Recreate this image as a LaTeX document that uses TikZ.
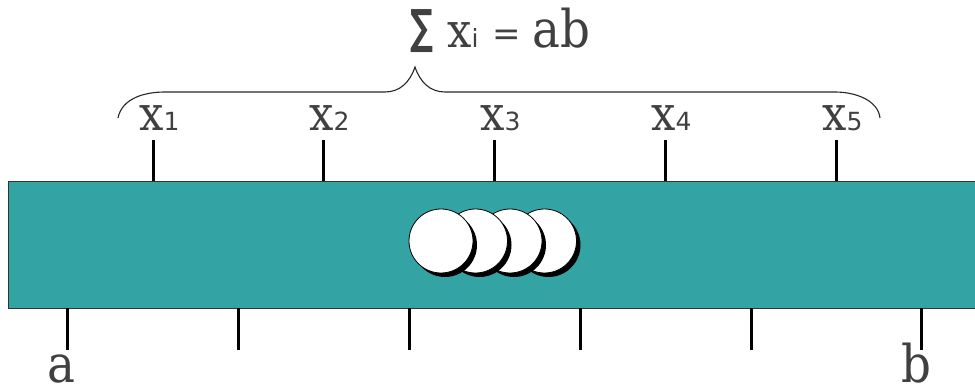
\documentclass[tikz,border=0pt]{standalone}
\usepackage{fontspec}
\usepackage{graphicx}
\setmainfont{DejaVu Serif Condensed}
\newfontfamily\sansf{DejaVu Sans}
\definecolor{barteal}{RGB}{51,163,163}
\definecolor{txtgray}{RGB}{64,64,64}
\begin{document}
\begin{tikzpicture}[x=1pt,y=-1pt,
  lbl/.style={anchor=base west,inner sep=0pt,text=txtgray},
  tickline/.style={line width=3pt,black},
  disc/.style={circle,draw=black,line width=0.8pt,fill=white,minimum size=64pt,inner sep=0pt},
  shad/.style={circle,fill=black,minimum size=64pt,inner sep=0pt},
  bracepath/.style={draw=black!85,line width=1.1pt}]
\useasboundingbox (0,0) rectangle (975,390);
\newcommand{\bigx}{\fontsize{48}{48}\selectfont x}
\newcommand{\subd}[1]{{\sansf\fontsize{25}{25}\selectfont #1}}
% bar
\node[draw=black!80,line width=0.8pt,fill=barteal,anchor=north west,minimum width=975pt,minimum height=127pt,inner sep=0pt] (bar) at (8,181) {};
% top ticks and labels
\foreach \i/\x in {1/153,2/323,3/494,4/665,5/836}{
  \coordinate (t\i) at (\x,181);
  \coordinate (tt\i) at (\x,140);
  \draw[tickline] (t\i) -- (tt\i);
  \node[lbl] (x\i) at (\x-14,131) {\bigx\subd{\i}};
}
% bottom ticks
\foreach \i/\x in {1/67,2/238,3/409,4/580,5/751,6/921}{
  \coordinate (b\i) at (\x,308);
  \coordinate (bb\i) at (\x,350);
  \draw[tickline] (b\i) -- (bb\i);
}
\node[lbl] (la) at (47,382) {\fontsize{52}{52}\selectfont a};
\node[lbl] (lb) at (901,382) {\fontsize{52}{52}\selectfont b};
% brace
\coordinate (bl) at (118,118);
\coordinate (br) at (880,118);
\coordinate (tip) at (415,67);
\draw[bracepath] (bl) .. controls (122,98) and (145,92) .. (165,92)
  -- (385,92) .. controls (400,92) and (410,82) .. (tip)
  .. controls (420,82) and (430,92) .. (445,92)
  -- (835,92) .. controls (855,92) and (878,100) .. (br);
% sum label
\node[anchor=south west,inner sep=0pt,text=txtgray] (sig) at (410,53) {\resizebox*{23pt}{43pt}{\sansf\bfseries ∑}};
\node[lbl] (xi) at (447,48) {\bigx\subd{i}};
\node[lbl] (eq) at (492,46) {\sansf\fontsize{34}{34}\selectfont =};
\node[lbl] (ab) at (532,48) {\fontsize{52}{52}\selectfont ab};
% discs
\foreach \i/\x in {4/544.5,3/510,2/475.5,1/441}{
  \node[shad] (s\i) at (\x+4,245) {};
  \node[disc] (c\i) at (\x,241) {};
}
\end{tikzpicture}
\end{document}
